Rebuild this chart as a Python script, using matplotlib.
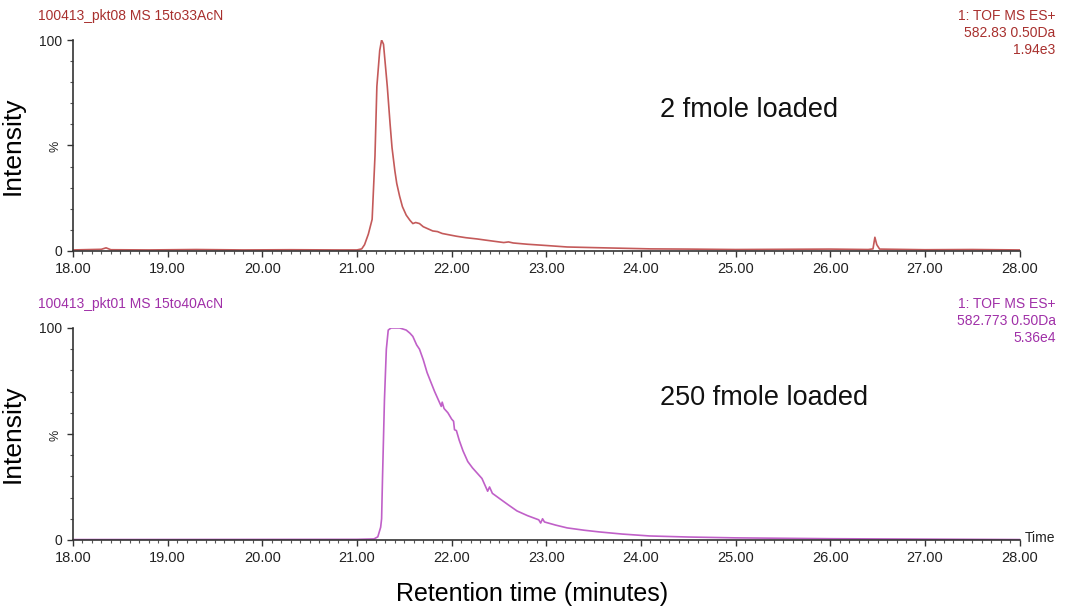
import matplotlib
matplotlib.use('Agg')
import matplotlib.pyplot as plt
from matplotlib.ticker import MultipleLocator

plt.rcParams['font.family'] = ['Liberation Sans', 'DejaVu Sans']

# 2 fmole trace (time in minutes, relative intensity %)
top_time = [18.00, 18.30, 18.35, 18.40, 18.80, 19.30, 19.80, 20.30, 20.80, 21.00,
            21.05, 21.08, 21.12, 21.16, 21.19, 21.21, 21.24, 21.26, 21.28, 21.30,
            21.32, 21.35, 21.37, 21.40, 21.42, 21.45, 21.48, 21.52, 21.56, 21.59,
            21.62, 21.66, 21.70, 21.75, 21.80, 21.85, 21.90, 21.98, 22.05, 22.15,
            22.27, 22.35, 22.45, 22.55, 22.60, 22.65, 22.80, 23.00, 23.22, 23.50,
            23.80, 24.10, 24.50, 25.00, 25.50, 26.00, 26.40, 26.45, 26.47, 26.49,
            26.52, 27.00, 27.50, 28.00]
top_intensity = [0.5, 0.8, 1.5, 0.6, 0.5, 0.7, 0.5, 0.6, 0.5, 0.5,
                 1.0, 3.0, 8.0, 15.0, 45.0, 78.0, 95.0, 100.0, 98.0, 88.0,
                 78.0, 60.0, 49.0, 38.0, 32.0, 26.0, 21.0, 17.0, 14.5, 13.0,
                 13.5, 13.0, 11.5, 10.5, 9.5, 9.2, 8.3, 7.6, 7.0, 6.3,
                 5.7, 5.2, 4.6, 4.0, 4.3, 3.8, 3.2, 2.6, 1.9, 1.6,
                 1.3, 1.0, 0.9, 0.7, 0.8, 0.9, 0.7, 1.0, 6.5, 3.0,
                 0.9, 0.6, 0.7, 0.5]

# 250 fmole trace
bottom_time = [18.00, 21.00, 21.18, 21.22, 21.25, 21.26, 21.27, 21.29, 21.31, 21.33,
               21.36, 21.45, 21.52, 21.56, 21.59, 21.63, 21.66, 21.70, 21.74, 21.77,
               21.82, 21.86, 21.89, 21.90, 21.92, 21.96, 22.00, 22.02, 22.03, 22.05,
               22.08, 22.12, 22.17, 22.22, 22.27, 22.32, 22.36, 22.38, 22.40, 22.43,
               22.51, 22.60, 22.69, 22.80, 22.92, 22.94, 22.96, 22.98, 23.10, 23.22,
               23.40, 23.56, 23.80, 24.09, 24.50, 25.00, 25.50, 26.00, 27.00, 28.00]
bottom_intensity = [0.2, 0.3, 0.5, 1.5, 6.0, 10.0, 30.0, 66.0, 90.0, 99.0,
                    100.0, 100.0, 99.0, 97.5, 96.0, 92.0, 90.0, 85.0, 79.0, 75.6,
                    70.0, 66.0, 63.0, 65.0, 62.0, 60.0, 57.0, 56.0, 52.0, 51.6,
                    47.0, 42.0, 37.0, 34.0, 31.5, 29.0, 25.0, 23.0, 25.0, 22.0,
                    19.4, 16.5, 13.7, 11.5, 9.5, 8.0, 10.0, 8.5, 7.0, 5.7,
                    4.6, 3.8, 2.8, 1.9, 1.4, 1.0, 0.8, 0.6, 0.4, 0.2]

x_ticks = [18, 19, 20, 21, 22, 23, 24, 25, 26, 27, 28]

panels = [
    dict(time=top_time, values=top_intensity, line='#c45a5a', text='#a8302e',
         header='100413_pkt08 MS 15to33AcN',
         info='1: TOF MS ES+\n582.83 0.50Da\n1.94e3',
         note='2 fmole loaded', rect=[0.0685, 0.5865, 0.889, 0.3476]),
    dict(time=bottom_time, values=bottom_intensity, line='#c060c8', text='#a030a8',
         header='100413_pkt01 MS 15to40AcN',
         info='1: TOF MS ES+\n582.773 0.50Da\n5.36e4',
         note='250 fmole loaded', rect=[0.0685, 0.1104, 0.889, 0.3493]),
]

fig = plt.figure(figsize=(10.65, 6.07), dpi=100)

for i, p in enumerate(panels):
    ax = fig.add_axes(p['rect'])
    ax.plot(p['time'], p['values'], color=p['line'], lw=1.2)
    ax.set_xlim(18, 28)
    ax.set_ylim(0, 100)
    for s in ['top', 'right']:
        ax.spines[s].set_visible(False)
    for s in ['left', 'bottom']:
        ax.spines[s].set_color('#333333')
        ax.spines[s].set_linewidth(1.2)
    ax.set_xticks(x_ticks)
    ax.set_xticklabels(['%.2f' % t for t in x_ticks], fontsize=10.5, color='#222222')
    ax.xaxis.set_minor_locator(MultipleLocator(0.1))
    ax.set_yticks([0, 50, 100])
    ax.set_yticklabels(['0', '%', '100'], fontsize=10, color='#222222')
    ax.get_yticklabels()[1].set_rotation(90)
    ax.get_yticklabels()[1].set_fontsize(9)
    ax.yaxis.set_minor_locator(MultipleLocator(10))
    ax.tick_params(axis='both', which='major', length=4, width=1, color='#333333', pad=4)
    ax.tick_params(axis='both', which='minor', length=2.5, width=0.8, color='#555555')
    ax.set_ylabel('Intensity', fontsize=19, labelpad=10)

    ax.text(-0.037, 1.115, p['header'], transform=ax.transAxes, fontsize=10,
            color=p['text'], ha='left', va='center')
    ax.text(1.038, 1.145, p['info'], transform=ax.transAxes, fontsize=10,
            color=p['text'], ha='right', va='top', linespacing=1.25)
    ax.text(0.62, 0.67, p['note'], transform=ax.transAxes, fontsize=19.5,
            color='#111111', ha='left', va='center')
    if i == 1:
        ax.text(1.005, 0.01, 'Time', transform=ax.transAxes, fontsize=10,
                color='#222222', ha='left', va='center')
        ax.set_xlabel('Retention time (minutes)', fontsize=18, labelpad=8)
        ax.xaxis.set_label_coords(0.485, -0.2)

fig.savefig('out.png', dpi=100)
